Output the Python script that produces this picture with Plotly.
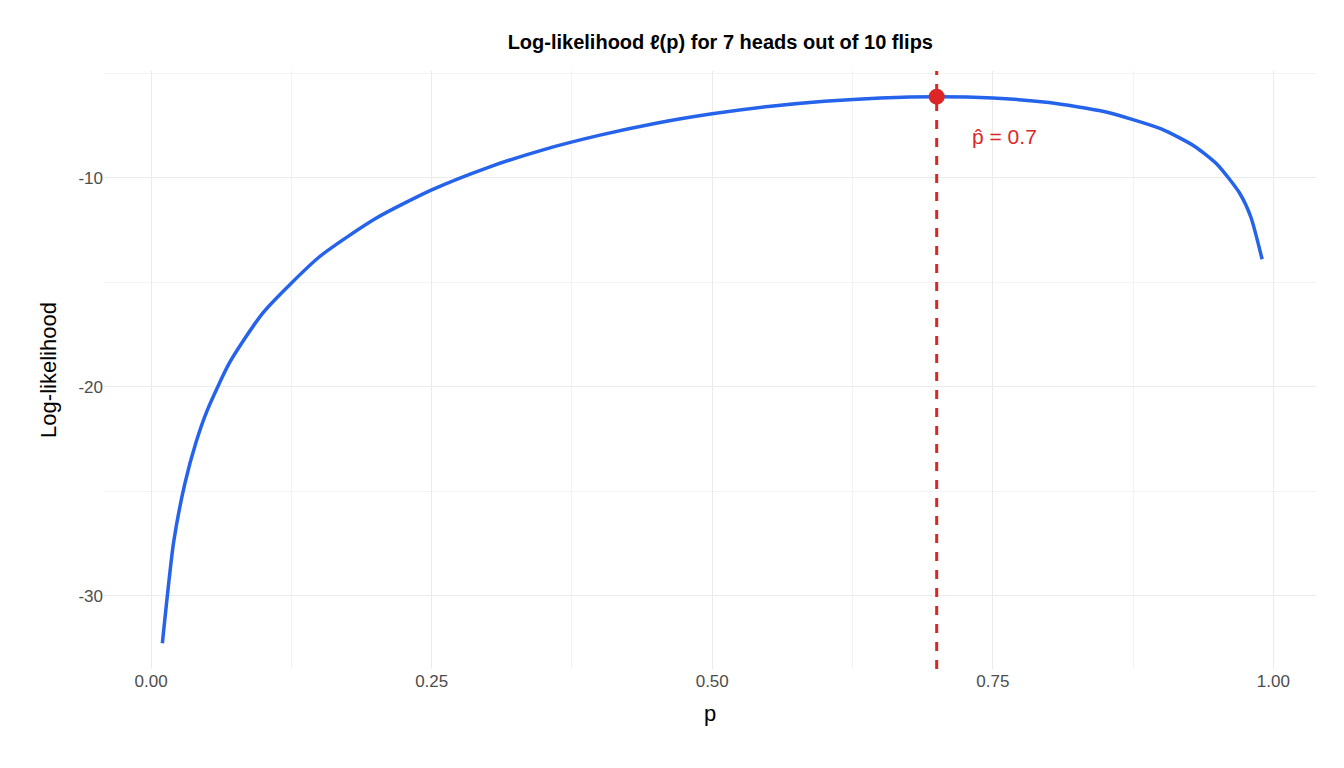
import plotly.graph_objects as go

# values
p_vals = [0.01, 0.02, 0.03, 0.04, 0.05, 0.07, 0.10, 0.15, 0.20, 0.25, 0.30, 0.35,
          0.40, 0.45, 0.50, 0.55, 0.60, 0.65, 0.70, 0.75, 0.80, 0.85, 0.90, 0.93,
          0.95, 0.97, 0.98, 0.99]
loglik = [-32.27, -27.45, -24.64, -22.65, -21.12, -18.83, -16.43, -13.77, -11.94,
          -10.57, -9.50, -8.64, -7.95, -7.38, -6.93, -6.58, -6.33, -6.17, -6.11,
          -6.17, -6.39, -6.83, -7.65, -8.49, -9.35, -10.73, -11.88, -13.89]
p_hat = 0.7
loglik_max = -6.11

fig = go.Figure()
fig.add_trace(go.Scatter(x=p_vals, y=loglik, mode="lines", line=dict(color="#2563EB", width=3.5, shape="spline", smoothing=0.6)))
fig.add_vline(x=p_hat, line=dict(color="#DC2626", width=3, dash="dash"))
fig.add_trace(go.Scatter(x=[p_hat], y=[loglik_max], mode="markers", marker=dict(color="#DC2626", size=16)))
fig.add_annotation(x=0.73, y=-8, text="p̂ = 0.7", showarrow=False, xanchor="left",
                   font=dict(color="#DC2626", size=21))

axis_common = dict(showgrid=True, gridcolor="#EBEBEB", gridwidth=1.2, zeroline=False,
                   showline=False, ticks="", tickfont=dict(size=17, color="#4D4D4D"),
                   title_font=dict(size=22, color="black"))
fig.update_layout(
    title=dict(text="<b>Log-likelihood ℓ(p) for 7 heads out of 10 flips</b>", x=0.53, y=0.965,
               xanchor="center", font=dict(size=20, color="black")),
    font=dict(family="Liberation Sans, Arial, sans-serif"),
    xaxis=dict(title="p", range=[-0.042, 1.038], tickvals=[0, 0.25, 0.5, 0.75, 1.0],
               ticktext=["0.00", "0.25", "0.50", "0.75", "1.00"],
               minor=dict(dtick=0.125, tick0=0.125, showgrid=True, gridcolor="#F3F3F3", gridwidth=1), **axis_common),
    yaxis=dict(title="Log-likelihood", range=[-33.5, -4.88], tickvals=[-10, -20, -30],
               ticktext=["-10", "-20", "-30"],
               minor=dict(dtick=5, tick0=-5, showgrid=True, gridcolor="#F3F3F3", gridwidth=1), **axis_common),
    plot_bgcolor="white", paper_bgcolor="white", showlegend=False,
    width=1344, height=768, margin=dict(l=96, r=36, t=63, b=107),
)
fig.write_html("out.html")
